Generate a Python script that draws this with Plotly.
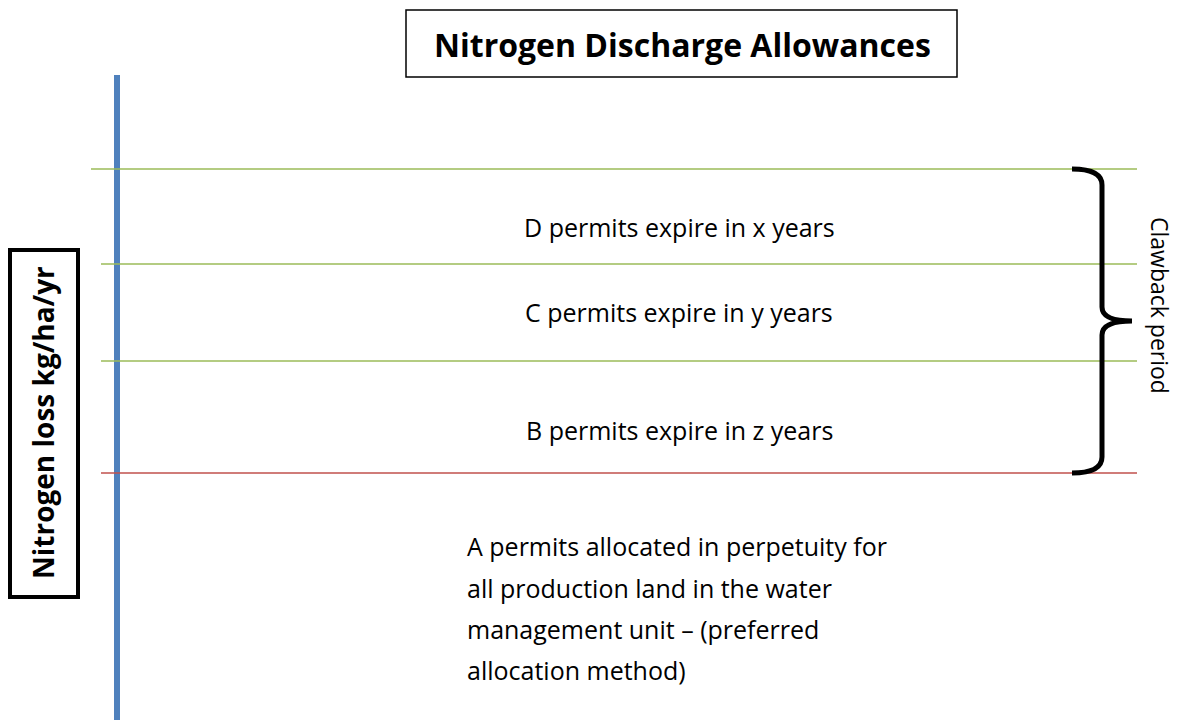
import plotly.graph_objects as go

# Diagram drawn on a pixel-like canvas: x 0..1182, y 0..720 (0 at the bottom)
W, H = 1182, 720
PAGE_MARGIN = 8  # default body margin of the html page

# Allowance levels (nitrogen loss, in canvas units) from top to bottom
level_names = ['D top', 'D/C', 'C/B', 'B/A']
level_values = [551, 456, 359, 247]
level_colors = ['#9BBB59', '#9BBB59', '#9BBB59', '#C0504D']
level_starts = [91, 101, 101, 101]
level_end = 1137

# Band labels sit between consecutive levels
band_labels = ['D permits expire in x years',
               'C permits expire in y years',
               'B permits expire in z years']
band_label_y = [493, 408, 290]

# Perpetual allocation text
a_lines = ['A permits allocated in perpetuity for',
           'all production land in the water',
           'management unit \u2013 (preferred',
           'allocation method)']
a_line_y = [174, 132, 91, 50]

title = 'Nitrogen Discharge Allowances'
y_label = 'Nitrogen loss kg/ha/yr'
bracket_label = 'Clawback period'

FONT = 'Open Sans'

fig = go.Figure()

# Blue vertical axis line
fig.add_trace(go.Scatter(
    x=[117, 117], y=[-10, 645],
    mode='lines', line=dict(color='#4F81BD', width=6),
    hoverinfo='skip', showlegend=False
))

# Horizontal level lines
for name, val, col, x0 in zip(level_names, level_values, level_colors, level_starts):
    fig.add_trace(go.Scatter(
        x=[x0, level_end], y=[val, val],
        mode='lines', line=dict(color=col, width=1.5),
        name=name, hoverinfo='skip', showlegend=False
    ))

# Curly bracket spanning the clawback levels (top green to red)
top, bot = level_values[0], level_values[-1]
mid = (top + bot) / 2
xa, xb, xc = 1072, 1102, 1132
bracket = (f'M {xa},{top} Q {xb},{top} {xb},{top - 16} '
           f'L {xb},{mid + 14} Q {xb},{mid} {xc},{mid} '
           f'Q {xb},{mid} {xb},{mid - 14} '
           f'L {xb},{bot + 16} Q {xb},{bot} {xa},{bot}')
fig.add_shape(type='path', path=bracket, xref='x', yref='y',
              line=dict(color='black', width=5))

# Title box
fig.add_shape(type='rect', x0=406, x1=957, y0=H - 77, y1=H - 10,
              xref='x', yref='y', line=dict(color='black', width=1.5))
fig.add_annotation(x=682, y=H - 44, text=f'<b>{title}</b>', showarrow=False,
                   font=dict(family=FONT, size=32, color='black'),
                   xanchor='center', yanchor='middle')

# Y label box
fig.add_shape(type='rect', x0=10, x1=78, y0=H - 597, y1=H - 250,
              xref='x', yref='y', line=dict(color='black', width=4))
fig.add_annotation(x=43, y=H - 423, text=f'<b>{y_label}</b>', showarrow=False,
                   textangle=-90, font=dict(family=FONT, size=28, color='black'),
                   xanchor='center', yanchor='middle')

# Band labels
for txt, yy in zip(band_labels, band_label_y):
    fig.add_annotation(x=679, y=yy, text=txt, showarrow=False,
                       font=dict(family=FONT, size=25, color='black'),
                       xanchor='center', yanchor='middle')

# Paragraph for A permits
for txt, yy in zip(a_lines, a_line_y):
    fig.add_annotation(x=465, y=yy, text=txt, showarrow=False,
                       font=dict(family=FONT, size=25, color='black'),
                       xanchor='left', yanchor='middle')

# Clawback period label
fig.add_annotation(x=1160, y=H - 305, text=bracket_label, showarrow=False,
                   textangle=90, font=dict(family=FONT, size=23, color='black'),
                   xanchor='center', yanchor='middle')

fig.update_layout(
    width=W, height=H,
    paper_bgcolor='white', plot_bgcolor='white',
    margin=dict(l=0, r=0, t=0, b=0),
    xaxis=dict(range=[PAGE_MARGIN, W + PAGE_MARGIN], visible=False, fixedrange=True),
    yaxis=dict(range=[-PAGE_MARGIN, H - PAGE_MARGIN], visible=False, fixedrange=True),
)

fig.write_html('out.html')
